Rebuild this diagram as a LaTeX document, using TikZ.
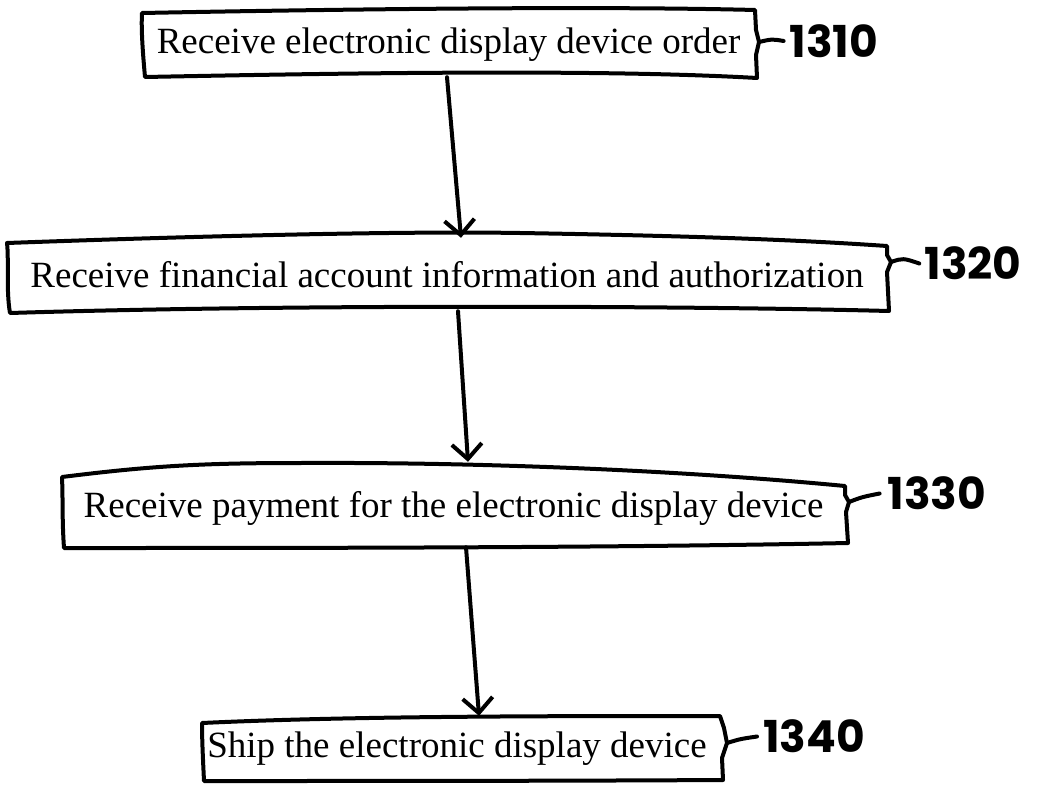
\documentclass[tikz,border=0pt]{standalone}
\usepackage{fontspec}
\setmainfont{Liberation Serif}
\newfontfamily\handfont{Poppins}
\usetikzlibrary{arrows.meta,calc}

\begin{document}
\begin{tikzpicture}[x=1pt,y=-1pt,
  stepbox/.style={inner sep=0pt, font=\fontsize{37}{40}\selectfont},
  outline/.style={line width=4pt, line join=round, line cap=round},
  flow/.style={line width=4pt, line cap=round,
    -{Straight Barb[length=15pt,width=30pt,line width=4pt]}},
  leader/.style={line width=4pt, line cap=round},
  refnum/.style={font={\handfont\bfseries\fontsize{44}{44}\selectfont}, inner sep=0pt}]

\useasboundingbox[fill=white] (0,0) rectangle (1038,784);

% process steps
\node[stepbox, minimum width=613pt, minimum height=65pt] (b1) at (448.5,44.5)
  {Receive electronic display device order};
\node[stepbox, minimum width=880pt, minimum height=73pt] (b2) at (447,274.5)
  {Receive financial account information and authorization};
\node[stepbox, minimum width=783pt, minimum height=77pt] (b3) at (453.5,508.5)
  {Receive payment for the electronic display device};
\node[stepbox, minimum width=520pt, minimum height=65pt] (b4) at (462,748.5)
  {\hspace*{-10pt}Ship the electronic display device};

% hand-drawn outlines of the step boxes
\draw[outline] (142,13) .. controls (350,9) and (600,6) .. (755,10)
  -- (756,30) -- (759,42) -- (756,55) -- (757,78)
  .. controls (600,69) and (350,73) .. (145,77)
  .. controls (143,55) and (141,30) .. cycle;
\draw[outline] (7,243) .. controls (200,236) and (400,231) .. (520,233)
  .. controls (700,236) and (800,240) .. (887,246)
  -- (887,255) -- (891,262) -- (887,272) -- (889,311)
  .. controls (700,306) and (300,304) .. (10,313)
  .. controls (6,290) and (9,260) .. cycle;
\draw[outline] (62,477) .. controls (150,466) and (200,463) .. (300,463)
  .. controls (500,462) and (700,472) .. (845,486)
  -- (845,495) -- (849,502) -- (846,512) -- (848,543)
  .. controls (600,548) and (300,548) .. (64,548)
  .. controls (62,520) and (63,500) .. cycle;
\draw[outline] (202,723) .. controls (350,716) and (550,716) .. (720,716)
  -- (724,728) -- (727,743) -- (722,758) -- (723,780)
  .. controls (550,781) and (350,781) .. (204,781)
  .. controls (203,760) and (202,740) .. cycle;

% reference numerals
\node[refnum] (r1) at (834,41) {1310};
\node[refnum] (r2) at (973,263.5) {1320};
\node[refnum] (r3) at (937,493.5) {1330};
\node[refnum] (r4) at (814,736.5) {1340};

\draw[leader] (759,42) .. controls (772,39) .. ([xshift=-6pt]r1.west);
\draw[leader] (891,262) .. controls (903,258) .. ([xshift=-5pt]r2.west);
\draw[leader] (849,502) .. controls (862,497) .. ([xshift=-8pt]r3.west);
\draw[leader] (727,743) .. controls (740,739) .. ([xshift=-6pt]r4.west);

% flow between the steps
\draw[flow] ([xshift=-1.5pt]b1.south) -- ([xshift=14pt]b2.north);
\draw[flow] ([xshift=11pt]b2.south) -- ([xshift=14.5pt,yshift=8pt]b3.north);
\draw[flow] ([xshift=12.5pt]b3.south) -- ([xshift=17pt]b4.north);

\end{tikzpicture}
\end{document}
